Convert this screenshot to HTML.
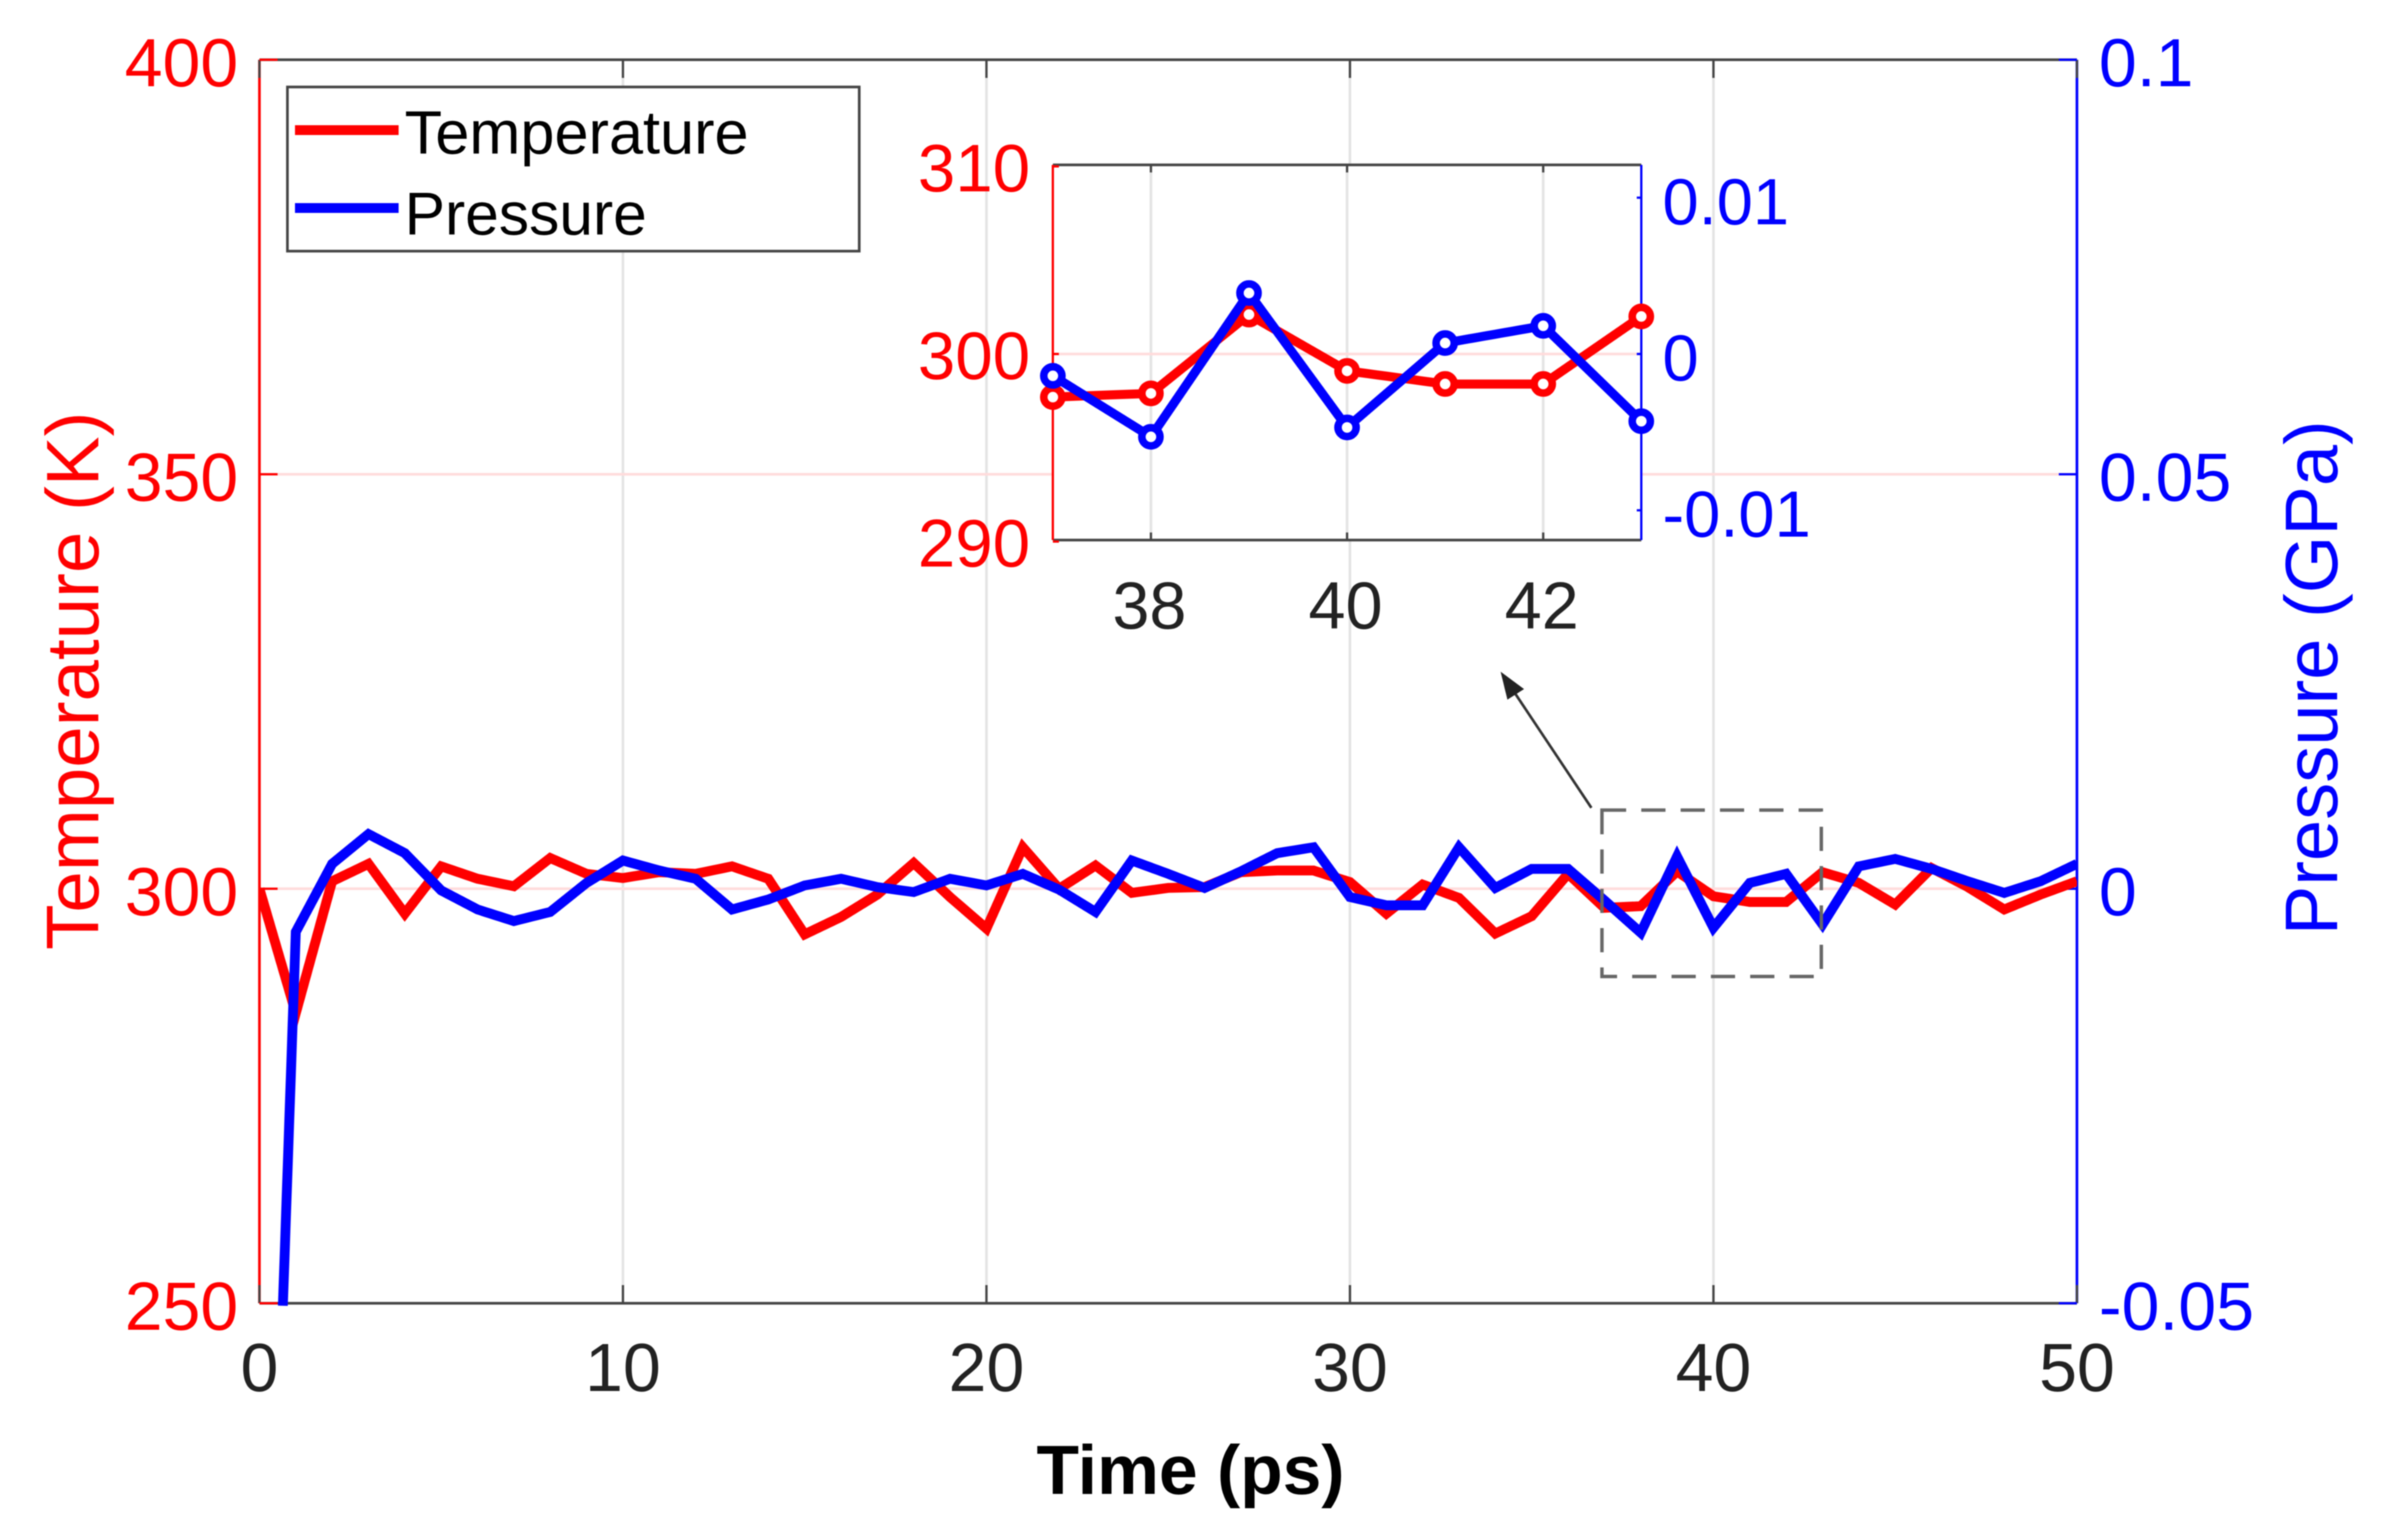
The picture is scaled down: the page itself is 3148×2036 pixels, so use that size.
<!DOCTYPE html>
<html lang="en">
<head>
<meta charset="utf-8">
<title>Temperature and pressure over time</title>
<style>
html,body{margin:0;padding:0;background:#fff;width:3148px;height:2036px;overflow:hidden}
svg{display:block;filter:blur(0.8px)}
text{font-family:"Liberation Sans",Arial,sans-serif}
</style>
</head>
<body>
<svg id="chart" xmlns="http://www.w3.org/2000/svg" width="3148" height="2036" viewBox="0 0 3148 2036">
  <defs>
    <clipPath id="main-clip"><rect x="343" y="78" width="2403" height="1649"/></clipPath>
  </defs>
  <rect x="0" y="0" width="3148" height="2036" fill="#fff"/>
  <g id="main-grid"></g>
  <g id="main-axes"></g>
  <g id="main-series" clip-path="url(#main-clip)"></g>

  <text x="1574" y="1975" font-size="92" font-weight="700" text-anchor="middle" fill="#000">Time (ps)</text>
  <text transform="translate(130,900) rotate(-90)" font-size="98.5" text-anchor="middle" fill="#f00">Temperature (K)</text>
  <text transform="translate(3090,896) rotate(-90)" font-size="98" text-anchor="middle" fill="#00f">Pressure (GPa)</text>

  <g>
    <rect x="380" y="115" width="756" height="217" fill="#fff" stroke="#444" stroke-width="3.5"/>
    <line x1="390" y1="172" x2="527" y2="172" stroke="#f00" stroke-width="13"/>
    <text x="535" y="203" font-size="81" fill="#000">Temperature</text>
    <line x1="390" y1="275" x2="527" y2="275" stroke="#00f" stroke-width="13"/>
    <text x="535" y="310" font-size="80" fill="#000">Pressure</text>
  </g>

  <rect x="2118" y="1071" width="290" height="220" fill="none" stroke="#666" stroke-width="4.5" stroke-dasharray="32 20"/>
  <g>
    <line x1="2104" y1="1068" x2="2000" y2="912" stroke="#333" stroke-width="3.5"/>
    <polygon points="1984,888 2015,911 1993,925" fill="#222"/>
  </g>

  <rect x="1392" y="218" width="778" height="496" fill="#fff"/>
  <g id="inset-grid"></g>
  <g id="inset-axes"></g>
  <g id="inset-series"></g>
</svg>

<script>
// ---- main chart data ----
const timeValues = [0,1,2,3,4,5,6,7,8,9,10,11,12,13,14,15,16,17,18,19,20,21,22,23,24,25,26,27,28,29,30,31,32,33,34,35,36,37,38,39,40,41,42,43,44,45,46,47,48,49,50];
const temperatureValues = [300,285,300.9,303,297,302.7,301.2,300.3,303.7,301.8,301.3,302,301.8,302.7,301.2,294.5,296.6,299.3,303.1,299,295.2,305,300,302.8,299.5,300.1,300.2,302,302.2,302.2,300.8,297,300.5,298.9,294.6,296.7,301.8,297.7,297.9,302.1,299.1,298.4,298.4,302,300.7,298.1,302.5,300.2,297.5,299.3,300.9];
// The pressure trace enters the plot through the bottom axis just before t = 1.
const pressureTimeValues = [0.645,1,2,3,4,5,6,7,8,9,10,11,12,13,14,15,16,17,18,19,20,21,22,23,24,25,26,27,28,29,30,31,32,33,34,35,36,37,38,39,40,41,42,43,44,45,46,47,48,49,50];
const pressureValues = [-0.0503,-0.0052,0.003,0.0066,0.0043,-0.0002,-0.0025,-0.0039,-0.0028,0.0007,0.0034,0.0022,0.0012,-0.0025,-0.0013,0.0004,0.0012,0.0002,-0.0004,0.0012,0.0004,0.0018,-0.0001,-0.0028,0.0034,0.0018,0.0001,0.0021,0.0043,0.005,-0.001,-0.002,-0.002,0.005,0.0001,0.0024,0.0024,-0.0014,-0.0053,0.0039,-0.0047,0.0007,0.0018,-0.0043,0.0027,0.0036,0.0024,0.0009,-0.0005,0.0009,0.003];
const xTickValues = [0,10,20,30,40,50];
const xTickLabels = ['0','10','20','30','40','50'];
const tempTickValues = [250,300,350,400];
const tempTickLabels = ['250','300','350','400'];
const pressTickValues = [-0.05,0,0.05,0.1];
const pressTickLabels = ['-0.05','0','0.05','0.1'];

// ---- inset data ----
const insetTimeValues = [37,38,39,40,41,42,43];
const insetTemperatureValues = [297.7,297.9,302.1,299.1,298.4,298.4,302];
const insetPressureValues = [-0.0014,-0.0053,0.0039,-0.0047,0.0007,0.0018,-0.0043];
const insetXTickValues = [38,40,42];
const insetXTickLabels = ['38','40','42'];
const insetTempTickValues = [290,300,310];
const insetTempTickLabels = ['290','300','310'];
const insetPressTickValues = [-0.01,0,0.01];
const insetPressTickLabels = ['-0.01','0','0.01'];

function scale(d0, d1, r0, r1) {
  return function (v) { return r0 + (v - d0) * (r1 - r0) / (d1 - d0); };
}
const main = { left: 343, right: 2746, top: 79, bottom: 1723 };
const mainX = scale(0, 50, main.left, main.right);
const mainTemp = scale(250, 400, main.bottom, main.top);
const mainPress = scale(-0.05, 0.1, main.bottom, main.top);

const inset = { left: 1392, right: 2170, top: 218, bottom: 714 };
const insetX = scale(37, 43, inset.left, inset.right);
const insetTemp = scale(290, 310, inset.bottom + 2, inset.top + 2);
const insetPress = scale(-0.012, 0.012, inset.bottom + 2, inset.top + 2);

const NS = 'http://www.w3.org/2000/svg';
function make(tag, parent, props) {
  const el = document.createElementNS(NS, tag);
  for (const k in props) el.setAttribute(k, props[k]);
  parent.appendChild(el);
  return el;
}
function seg(parent, x1, y1, x2, y2, color, width) {
  return make('line', parent, { x1: x1, y1: y1, x2: x2, y2: y2, stroke: color, 'stroke-width': width });
}
function label(parent, x, y, str, color, size, anchor) {
  const t = make('text', parent, { x: x, y: y, fill: color, 'font-size': size, 'text-anchor': anchor });
  t.textContent = str;
  return t;
}
function polyline(parent, xs, ys, xFn, yFn, color, width) {
  const pts = xs.map(function (v, i) { return xFn(v).toFixed(1) + ',' + yFn(ys[i]).toFixed(1); }).join(' ');
  return make('polyline', parent, { points: pts, fill: 'none', stroke: color, 'stroke-width': width, 'stroke-linejoin': 'miter', 'stroke-miterlimit': 6 });
}

const GRID = '#e4e4e4', PINK = '#ffdcdc', DARK = '#444', RED = '#f00', BLUE = '#00f', INK = '#222';

// main grid
const mainGrid = document.getElementById('main-grid');
xTickValues.forEach(function (v) {
  if (v === 0 || v === 50) return;
  const g = seg(mainGrid, mainX(v), main.top, mainX(v), main.bottom, GRID, 3.5);
  
  
});
tempTickValues.forEach(function (v) {
  if (v === 250 || v === 400) return;
  const g = seg(mainGrid, main.left, mainTemp(v), main.right, mainTemp(v), PINK, 3.5);
  
  
});

// main axes
const mainAxes = document.getElementById('main-axes');
const mainFrame = [
  [main.left, main.top, main.right, main.top, DARK, 3.5, 'top-axis-line'],
  [main.left, main.bottom, main.right, main.bottom, DARK, 3.5, 'bottom-axis-line'],
  [main.left, main.top, main.left, main.bottom, RED, 3.5, 'left-axis-line'],
  [main.right, main.top, main.right, main.bottom, BLUE, 3.5, 'right-axis-line']
];
mainFrame.forEach(function (f) {
  const l = seg(mainAxes, f[0], f[1], f[2], f[3], f[4], f[5]);
  
  
});
xTickValues.forEach(function (v, i) {
  const tb = seg(mainAxes, mainX(v), main.bottom, mainX(v), main.bottom - 24, DARK, 3);
  
  
  const tt = seg(mainAxes, mainX(v), main.top, mainX(v), main.top + 24, DARK, 3);
  
  
  const lb = label(mainAxes, mainX(v), 1839, xTickLabels[i], INK, 90, 'middle');
  
  
});
tempTickValues.forEach(function (v, i) {
  const tk = seg(mainAxes, main.left, mainTemp(v), main.left + 24, mainTemp(v), RED, 3);
  
  
  const lb = label(mainAxes, 315, mainTemp(v) + 35, tempTickLabels[i], RED, 90, 'end');
  
  
});
pressTickValues.forEach(function (v, i) {
  const tk = seg(mainAxes, main.right, mainPress(v), main.right - 24, mainPress(v), BLUE, 3);
  
  
  const lb = label(mainAxes, 2775, mainPress(v) + 35, pressTickLabels[i], BLUE, 90, 'start');
  
  
});

// main series
const mainSeries = document.getElementById('main-series');
const tempLine = polyline(mainSeries, timeValues, temperatureValues, mainX, mainTemp, RED, 13);


const pressLine = polyline(mainSeries, pressureTimeValues, pressureValues, mainX, mainPress, BLUE, 13);



// inset grid
const insetGrid = document.getElementById('inset-grid');
insetXTickValues.forEach(function (v) {
  const g = seg(insetGrid, insetX(v), inset.top, insetX(v), inset.bottom, GRID, 3.5);
  
  
});
const insetGridY = seg(insetGrid, inset.left, insetTemp(300), inset.right, insetTemp(300), PINK, 3.5);



// inset axes
const insetAxes = document.getElementById('inset-axes');
const insetFrame = [
  [inset.left, inset.top, inset.right, inset.top, DARK, 3.5, 'inset-top-axis-line'],
  [inset.left, inset.bottom, inset.right, inset.bottom, DARK, 3.5, 'inset-bottom-axis-line'],
  [inset.left, inset.top, inset.left, inset.bottom, RED, 3, 'inset-left-axis-line'],
  [inset.right, inset.top, inset.right, inset.bottom, BLUE, 3, 'inset-right-axis-line']
];
insetFrame.forEach(function (f) {
  const l = seg(insetAxes, f[0], f[1], f[2], f[3], f[4], f[5]);
  
  
});
insetXTickValues.forEach(function (v, i) {
  const tb = seg(insetAxes, insetX(v), inset.bottom, insetX(v), inset.bottom - 10, DARK, 3);
  
  
  const tt = seg(insetAxes, insetX(v), inset.top, insetX(v), inset.top + 10, DARK, 3);
  
  
  const lb = label(insetAxes, insetX(v) - 2, 831, insetXTickLabels[i], INK, 88, 'middle');
  
  
});
insetTempTickValues.forEach(function (v, i) {
  const tk = seg(insetAxes, inset.left, insetTemp(v), inset.left + 8, insetTemp(v), RED, 3);
  
  
  const lb = label(insetAxes, 1362, insetTemp(v) + 33, insetTempTickLabels[i], RED, 89, 'end');
  
  
});
insetPressTickValues.forEach(function (v, i) {
  const tk = seg(insetAxes, inset.right, insetPress(v), inset.right - 6, insetPress(v), BLUE, 3);
  
  
  const lb = label(insetAxes, 2198, insetPress(v) + 35, insetPressTickLabels[i], BLUE, 86, 'start');
  
  
});

// inset series
const insetSeries = document.getElementById('inset-series');
const insetTempLine = polyline(insetSeries, insetTimeValues, insetTemperatureValues, insetX, insetTemp, RED, 12);


insetTimeValues.forEach(function (v, i) {
  const c = make('circle', insetSeries, { cx: insetX(v), cy: insetTemp(insetTemperatureValues[i]), r: 12, fill: '#fff', stroke: RED, 'stroke-width': 10 });
  
  
});
const insetPressLine = polyline(insetSeries, insetTimeValues, insetPressureValues, insetX, insetPress, BLUE, 12);


insetTimeValues.forEach(function (v, i) {
  const c = make('circle', insetSeries, { cx: insetX(v), cy: insetPress(insetPressureValues[i]), r: 12, fill: '#fff', stroke: BLUE, 'stroke-width': 10 });
  
  
});
</script>
</body>
</html>
